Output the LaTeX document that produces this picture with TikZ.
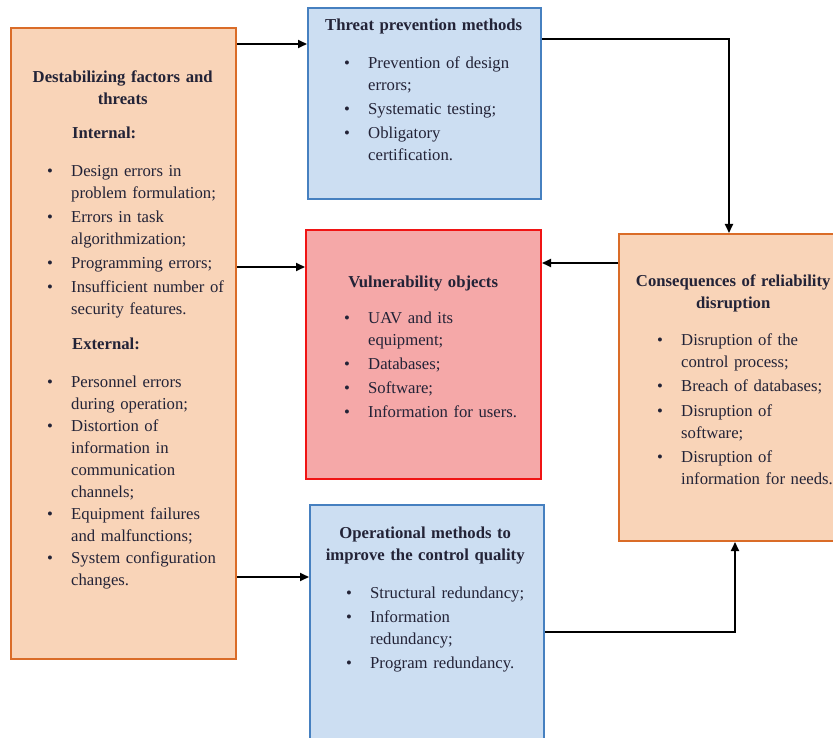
\documentclass[tikz,border=0pt]{standalone}
\usepackage{fontspec}
\setmainfont{Liberation Serif}
\usetikzlibrary{arrows.meta}
\definecolor{orangeline}{RGB}{218,108,40}
\definecolor{orangefill}{RGB}{249,212,184}
\definecolor{blueline}{RGB}{70,128,192}
\definecolor{bluefill}{RGB}{204,222,242}
\definecolor{redline}{RGB}{240,20,20}
\definecolor{redfill}{RGB}{245,168,168}
\definecolor{txt}{RGB}{35,35,55}
\newlength\bulind
\newlength\itemgap
\newcommand\bitem[1]{\par\vspace{\itemgap}\leftskip=\bulind\hangindent=24pt\hangafter=1\noindent\hbox to 24pt{\textbullet\hfill}#1}
\newcommand\btitle[1]{{\centering\bfseries\strut #1\par}}
\tikzset{
  box/.style={rectangle, line width=2pt, anchor=north west, inner sep=0pt},
  obox/.style={box, draw=orangeline, fill=orangefill},
  bbox/.style={box, draw=blueline, fill=bluefill},
  rbox/.style={box, draw=redline, fill=redfill},
  txtnode/.style={anchor=north west, inner sep=0pt, text=txt,
     font=\fontsize{16.7}{22}\selectfont, execute at begin node={\raggedright\setlength\itemgap{1.8pt}}},
  conn/.style={line width=1.9pt, -{Triangle[length=9pt,width=8pt]}},
}
\begin{document}
\begin{tikzpicture}[x=1pt,y=-1pt]
\clip (0,0) rectangle (833,738);
\fill[white] (0,0) rectangle (833,738);
% boxes
\node[obox, minimum width=225pt, minimum height=631pt] (L) at (10,27) {};
\node[bbox, minimum width=233pt, minimum height=191pt] (T) at (307,7) {};
\node[rbox, minimum width=235pt, minimum height=249pt] (V) at (305,229) {};
\node[obox, minimum width=222pt, minimum height=307pt] (C) at (618,233) {};
\node[bbox, minimum width=234pt, minimum height=256pt] (O) at (309,504) {};
% texts
\node[txtnode, text width=215pt] (Ltxt) at (15,67.3) {\setlength\bulind{32pt}%
\btitle{Destabilizing factors and\\threats}
\vspace{12pt}\leftskip=57pt\noindent\textbf{Internal:}\par\vspace{13pt}
\setlength\itemgap{2.2pt}%
\bitem{Design errors in\newline problem formulation;}
\bitem{Errors in task\newline algorithmization;}
\bitem{Programming errors;}
\bitem{Insufficient number of\newline security features.}
\par\vspace{13pt}\leftskip=57pt\noindent\textbf{External:}\par\vspace{16pt}
\setlength\itemgap{0pt}%
\bitem{Personnel errors\newline during operation;}
\bitem{Distortion of\newline information in\newline communication\newline channels;}
\bitem{Equipment failures\newline and malfunctions;}
\bitem{System configuration\newline changes.}\par};
\node[txtnode, text width=223pt] (Ttxt) at (312,15.3) {\setlength\bulind{32pt}%
\btitle{Threat prevention methods}
\vspace{14pt}
\bitem{Prevention of design\newline errors;}
\bitem{Systematic testing;}
\bitem{Obligatory\newline certification.}\par};
\node[txtnode, text width=226pt] (Vtxt) at (310,272.3) {\setlength\bulind{34pt}%
\btitle{Vulnerability objects}
\vspace{12pt}
\bitem{UAV and its\newline equipment;}
\bitem{Databases;}
\bitem{Software;}
\bitem{Information for users.}\par};
\node[txtnode, text width=220pt] (Ctxt) at (623,271.3) {\setlength\bulind{34pt}%
\btitle{Consequences of reliability\\disruption}
\vspace{12pt}
\setlength\itemgap{2.5pt}%
\bitem{Disruption of the\newline control process;}
\bitem{Breach of databases;}
\bitem{Disruption of\newline software;}
\bitem{Disruption of\newline information for needs.}\par};
\node[txtnode, text width=222pt] (Otxt) at (314,523.3) {\setlength\bulind{32pt}%
\btitle{Operational methods to\\improve the control quality}
\vspace{14pt}
\bitem{Structural redundancy;}
\bitem{Information\newline redundancy;}
\bitem{Program redundancy.}\par};
% connectors
\draw[conn] (L.east |- 0,44) -- (T.west |- 0,44);
\draw[conn] (L.east |- 0,267) -- (V.west |- 0,267);
\draw[conn] (L.east |- 0,577) -- (O.west |- 0,577);
\draw[conn] (T.east |- 0,39) -| (729,0 |- C.north);
\draw[conn] (C.west |- 0,263) -- (V.east |- 0,263);
\draw[conn] (O.east |- 0,632) -| (735,0 |- C.south);
\end{tikzpicture}
\end{document}
